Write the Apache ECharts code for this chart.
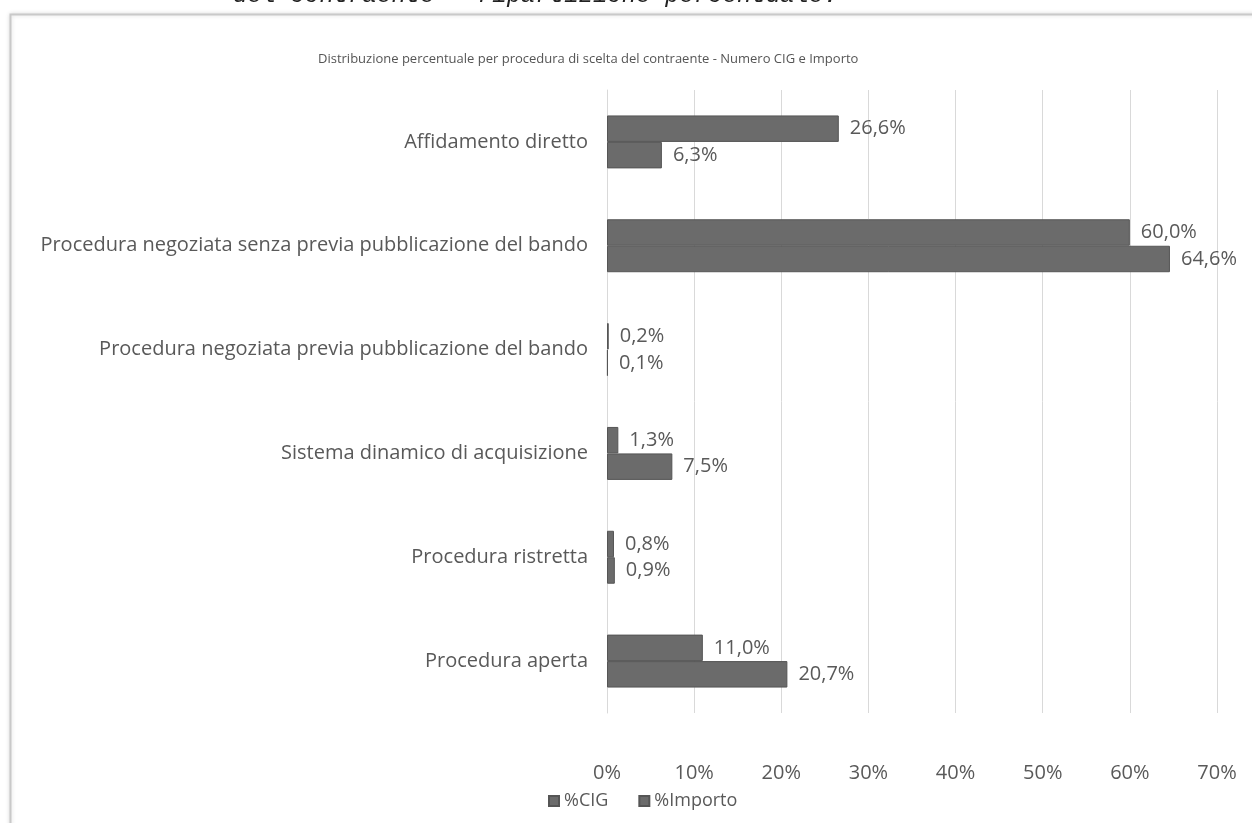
<!DOCTYPE html>
<html>
<head>
<meta charset="utf-8">
<script src="https://cdn.jsdelivr.net/npm/echarts@6/dist/echarts.min.js"></script>
<style>
html,body{margin:0;padding:0;background:#fff;}
#chart{width:1252px;height:823px;}
</style>
</head>
<body>
<div id="chart"></div>
<script>
const categories = [
  'Affidamento diretto',
  'Procedura negoziata senza previa pubblicazione del bando',
  'Procedura negoziata previa pubblicazione del bando',
  'Sistema dinamico di acquisizione',
  'Procedura ristretta',
  'Procedura aperta'
];
const cigValues = [26.6, 60.0, 0.2, 1.3, 0.8, 11.0];
const importoValues = [6.3, 64.6, 0.1, 7.5, 0.9, 20.7];
const seriesNames = ['%CIG', '%Importo'];
const xTicks = [0, 10, 20, 30, 40, 50, 60, 70];
const titleText = 'Distribuzione percentuale per procedura di scelta del contraente - Numero CIG e Importo';
const headerText = 'del contraente - ripartizione percentuale.';

const FONT = '"Open Sans", sans-serif';
const TXT = '#595959';
const BAR = '#6b6b6b';
const BAR_BORDER = '#555555';

const chart = echarts.init(document.getElementById('chart'));
const fmt = v => v.toFixed(1).replace('.', ',') + '%';

chart.setOption({
  backgroundColor: '#ffffff',
  animation: false,
  graphic: [
    {
      type: 'rect', z: -10, silent: true,
      shape: { x: 10.5, y: 14.5, width: 1260, height: 840 },
      style: { fill: '#ffffff', stroke: '#c9c9c9', lineWidth: 2, shadowBlur: 4, shadowColor: 'rgba(0,0,0,0.15)' }
    },
    {
      type: 'text', silent: true,
      style: {
        text: headerText, x: 233, y: -4,
        font: 'italic 24px "Liberation Mono", monospace',
        fill: '#222', verticalAlign: 'middle'
      }
    }
  ],
  title: {
    text: titleText,
    left: 313, top: 48,
    textStyle: { fontFamily: FONT, fontSize: 13, fontWeight: 'normal', color: '#555' }
  },
  legend: {
    data: seriesNames,
    left: 543, top: 787,
    icon: 'rect', itemWidth: 10, itemHeight: 10, itemGap: 30, itemSpacing: 5,
    textStyle: { fontFamily: FONT, fontSize: 18, color: TXT }
  },
  grid: { left: 607, right: 35, top: 90, bottom: 110, containLabel: false },
  xAxis: {
    type: 'value', min: 0, max: 70, interval: 10,
    axisLine: { show: false }, axisTick: { show: false },
    splitLine: { lineStyle: { color: '#d9d9d9', width: 1 } },
    axisLabel: {
      margin: 50, fontFamily: FONT, fontSize: 20, color: TXT,
      formatter: v => xTicks.includes(v) ? v + '%' : ''
    }
  },
  yAxis: {
    type: 'category', data: categories, inverse: true,
    axisLine: { show: true, lineStyle: { color: '#d9d9d9' } },
    axisTick: { show: false },
    axisLabel: { margin: 19, fontFamily: FONT, fontSize: 20, color: TXT }
  },
  series: [
    {
      name: seriesNames[0], type: 'bar', data: cigValues,
      barGap: '0%', barCategoryGap: '49%',
      itemStyle: { color: BAR, borderColor: BAR_BORDER, borderWidth: 1 },
      label: { show: true, position: 'right', distance: 11, fontFamily: FONT, fontSize: 20, color: TXT, formatter: p => fmt(p.value) }
    },
    {
      name: seriesNames[1], type: 'bar', data: importoValues,
      barGap: '0%', barCategoryGap: '49%',
      itemStyle: { color: BAR, borderColor: BAR_BORDER, borderWidth: 1 },
      label: { show: true, position: 'right', distance: 11, fontFamily: FONT, fontSize: 20, color: TXT, formatter: p => fmt(p.value) }
    }
  ]
});
</script>
</body>
</html>
